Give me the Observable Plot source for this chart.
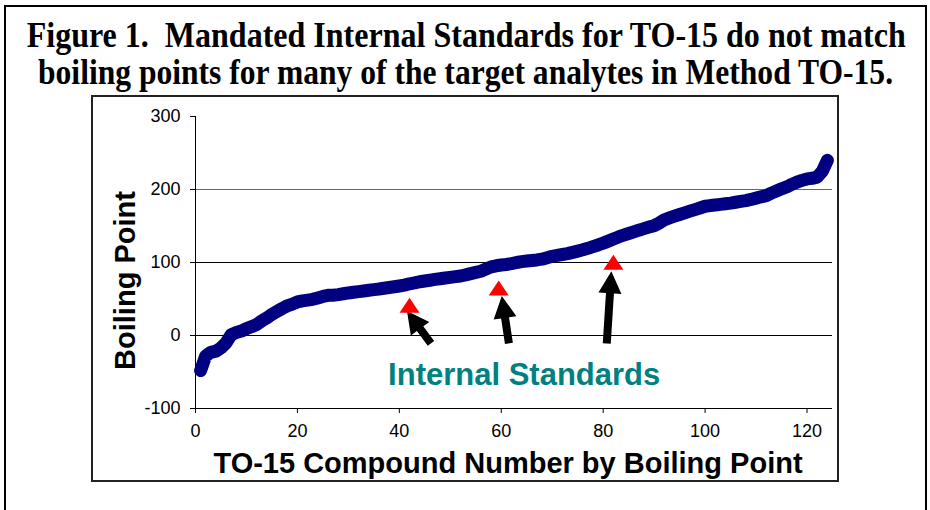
<!DOCTYPE html>
<html>
<head>
<meta charset="utf-8">
<script src="https://cdn.jsdelivr.net/npm/d3@7"></script>
<script src="https://cdn.jsdelivr.net/npm/@observablehq/plot@0.6"></script>
<style>
  html, body { margin: 0; padding: 0; background: #fff; width: 930px; height: 510px; overflow: hidden; }
  body { position: relative; }
  #frame { position: absolute; left: 4px; top: 5px; width: 923px; height: 540px; border: 2px solid #000; box-sizing: border-box; }
  .tl { position: absolute; left: -200px; width: 1332px; text-align: center; font-family: "Liberation Serif", "Times New Roman", serif; font-weight: bold; font-size: 36px; line-height: 1; white-space: nowrap; color: #000; }
  .tl span { display: inline-block; transform-origin: 50% 50%; }
  #box { position: absolute; left: 91px; top: 95px; width: 748px; height: 387px; border: 2px solid #222; box-sizing: border-box; pointer-events: none; }
  #chart { position: absolute; left: 92px; top: 96px; }
</style>
</head>
<body>
<div id="frame"></div>
<div class="tl" style="top:17px"><span>Figure 1.&nbsp; Mandated Internal Standards for TO-15 do not match</span></div>
<div class="tl" style="top:54px"><span>boiling points for many of the target analytes in Method TO-15.</span></div>
<div id="chart"></div>
<div id="box"></div>
<script>
// ---- data ----
// Boiling point (°C) of TO-15 compounds sorted, compound numbers 1..124
const boilingPoint = [
  -48, -28, -23, -21.5, -17, -10, 1, 4, 6, 9.5,
  12, 15, 20, 24, 29, 33, 37, 40.5, 43, 46,
  47.5, 48.5, 49.5, 51.5, 53.5, 55, 55.2, 56, 57.2, 58.3,
  59.2, 60.1, 61, 62, 62.9, 63.7, 64.7, 65.7, 66.7, 67.8,
  69, 70.8, 72, 73.6, 74.7, 75.7, 76.8, 77.8, 78.7, 79.7,
  80.6, 81.5, 83, 84.7, 86.4, 88, 91, 94, 95.5, 96.6,
  97.3, 98.5, 100, 101.2, 102, 102.7, 103.5, 104.6, 106.6, 108.5,
  109.8, 111, 112.1, 113.9, 115.6, 117.4, 119.4, 121.7, 124, 126.5,
  129.3, 132.2, 135, 137.4, 139.7, 142, 144.3, 146.4, 148.5, 150.5,
  154, 158.5, 161, 163.4, 165.7, 168, 170.3, 172.5, 174.7, 177,
  178, 178.8, 179.6, 180.5, 181.4, 182.5, 183.7, 184.8, 186.4, 188.2,
  190, 191.6, 195, 198, 201, 203.5, 207, 210, 212.5, 214.5,
  215.3, 217, 225, 240
];
const compounds = boilingPoint.map((bp, i) => ({n: i + 1, bp}));

// Internal standards (red triangles)
const standardX = [42, 59.5, 82];
const standardY = [38, 61.5, 97];

// Arrows pointing to the internal standards (tail -> tip, data units)
const arrowTailX = [46.3, 61.6, 80.8];
const arrowTailY = [-11.5, -11.5, -11.5];
const arrowTipX = [41.6, 60.2, 81.7];
const arrowTipY = [32.8, 53.3, 87.4];

// Annotation label
const annotationText = ["Internal Standards"];
const annotationX = [64.5];
const annotationY = [-54.6];

const xTicks = [0, 20, 40, 60, 80, 100, 120];
const yTicks = [-100, 0, 100, 200, 300];
const xLabel = "TO-15 Compound Number by Boiling Point";
const yLabel = "Boiling Point";

// ---- marks ----
const flatTriangle = {
  draw(context) {
    context.moveTo(0, -10);
    context.lineTo(10, 5);
    context.lineTo(-10, 5);
    context.closePath();
  }
};

function blockArrows(index, scales) {
  const g = d3.create("svg:g");
  for (let i = 0; i < arrowTipX.length; i++) {
    const tx = scales.x(arrowTailX[i]), ty = scales.y(arrowTailY[i]);
    const px = scales.x(arrowTipX[i]), py = scales.y(arrowTipY[i]);
    const dx = px - tx, dy = py - ty, L = Math.hypot(dx, dy);
    const ux = dx / L, uy = dy / L, nx = -uy, ny = ux;
    const sw = 4, hw = 11.5, hl = 22;
    const bx = px - ux * hl, by = py - uy * hl;
    const pts = [
      [tx + nx * sw, ty + ny * sw],
      [bx + nx * sw, by + ny * sw],
      [bx + nx * hw, by + ny * hw],
      [px, py],
      [bx - nx * hw, by - ny * hw],
      [bx - nx * sw, by - ny * sw],
      [tx - nx * sw, ty - ny * sw]
    ];
    g.append("path").attr("d", "M" + pts.map(p => p.join(",")).join("L") + "Z").attr("fill", "#000");
  }
  return g.node();
}

const standards = standardX.map((x, i) => ({x, y: standardY[i]}));
const annotations = annotationText.map((t, i) => ({t, x: annotationX[i], y: annotationY[i]}));

const chart = Plot.plot({
  width: 746,
  height: 385,
  marginLeft: 103,
  marginRight: 6,
  marginTop: 20,
  marginBottom: 73,
  style: {background: "transparent", fontFamily: "'Liberation Sans', Arial, sans-serif", fontSize: "18px", color: "#000", overflow: "visible"},
  x: {domain: [0, 125], ticks: xTicks, tickSize: 5, tickPadding: 11, label: null, tickFormat: d => String(d)},
  y: {domain: [-100, 300], ticks: yTicks, tickSize: 5, tickPadding: 10, label: null, tickFormat: d => String(d)},
  marks: [
    Plot.ruleY([0, 100], {stroke: "#000", strokeWidth: 1}),
    Plot.ruleY([200], {stroke: "#666", strokeWidth: 1}),
    Plot.ruleX([0], {stroke: "#000", strokeWidth: 1}),
    Plot.ruleY([-100], {stroke: "#000", strokeWidth: 1}),
    Plot.line(compounds, {x: "n", y: "bp", stroke: "#000080", strokeWidth: 13, strokeLinejoin: "round", strokeLinecap: "round"}),
    blockArrows,
    Plot.dot(standards, {x: "x", y: "y", symbol: flatTriangle, fill: "#ff0000", stroke: "none"}),
    Plot.text(annotations, {x: "x", y: "y", text: "t", fill: "#008080", fontSize: 31, fontWeight: "bold"}),
    Plot.text([xLabel], {frameAnchor: "bottom", textAnchor: "middle", lineAnchor: "bottom", dy: 64, dx: -6, fontSize: 29, fontWeight: "bold", fill: "#000"}),
    Plot.text([yLabel], {frameAnchor: "left", textAnchor: "middle", lineAnchor: "middle", dx: -70, dy: 18, rotate: -90, fontSize: 29, fontWeight: "bold", fill: "#000"})
  ]
});
document.getElementById("chart").appendChild(chart);

// fit the condensed serif title lines to their widths
const targets = [879, 855];
document.querySelectorAll(".tl span").forEach((s, k) => {
  const w = s.getBoundingClientRect().width;
  s.style.transform = `scaleX(${targets[k] / w})`;
});
</script>
</body>
</html>
